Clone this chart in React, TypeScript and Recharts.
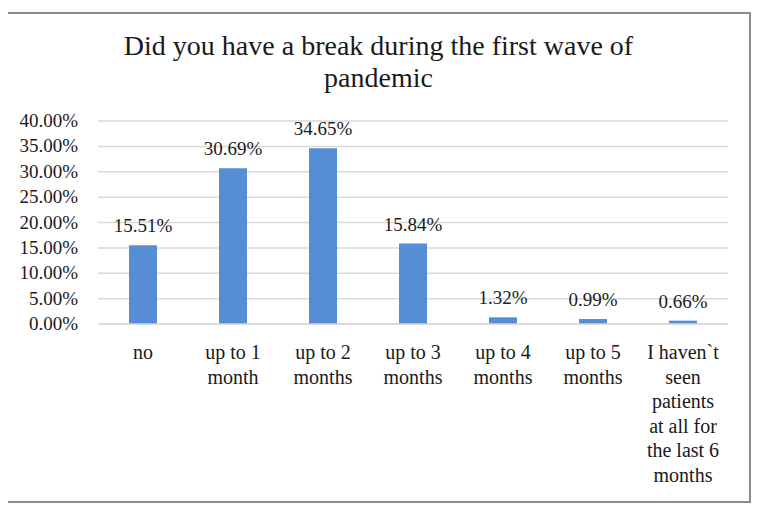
import { BarChart, Bar, XAxis, YAxis, CartesianGrid, LabelList } from 'recharts';

const categories = [
  'no',
  'up to 1 month',
  'up to 2 months',
  'up to 3 months',
  'up to 4 months',
  'up to 5 months',
  'I haven`t seen patients at all for the last 6 months',
];
const categoryLines = [
  ['no'],
  ['up to 1', 'month'],
  ['up to 2', 'months'],
  ['up to 3', 'months'],
  ['up to 4', 'months'],
  ['up to 5', 'months'],
  ['I haven`t', 'seen', 'patients', 'at all for', 'the last 6', 'months'],
];
const shares = [15.51, 30.69, 34.65, 15.84, 1.32, 0.99, 0.66];
const yTicks = [0, 5, 10, 15, 20, 25, 30, 35, 40];

const FONT = 'Liberation Serif, serif';
const TEXT = '#1a1a1a';

const data = categories.map((c, i) => ({ name: c, idx: i, value: shares[i] }));

const XTick = (props: any) => {
  const { x, y, payload } = props;
  const lines = categoryLines[payload.index] || [payload.value];
  return (
    <g>
      {lines.map((l: string, i: number) => (
        <text
          key={i}
          x={x}
          y={y + 27 + i * 24.5}
          textAnchor="middle"
          style={{ fontFamily: FONT, fontSize: 20, fill: TEXT }}
        >
          {l}
        </text>
      ))}
    </g>
  );
};

const YTick = (props: any) => {
  const { x, y, payload } = props;
  return (
    <text
      x={x - 12}
      y={y + 6}
      textAnchor="end"
      style={{ fontFamily: FONT, fontSize: 19, fill: TEXT }}
    >
      {payload.value.toFixed(2)}%
    </text>
  );
};

export default function App() {
  return (
    <div
      style={{
        position: 'relative',
        width: 741,
        height: 487,
        marginTop: 4,
        marginLeft: -2,
        border: '2px solid #8c8c8c',
        background: '#fff',
        fontFamily: FONT,
      }}
    >
      <div
        style={{
          position: 'absolute',
          left: 0,
          top: 16,
          width: 741,
          textAlign: 'center',
          fontFamily: FONT,
          fontSize: 28,
          lineHeight: '32px',
          color: TEXT,
        }}
      >
        Did you have a break during the first wave of
        <br />
        pandemic
      </div>
      <BarChart
        width={741}
        height={487}
        data={data}
        margin={{ top: 107, right: 21, left: 0, bottom: 0 }}
        style={{ fontFamily: FONT }}
      >
        <CartesianGrid vertical={false} stroke="#d9d9d9" strokeWidth={1.5} />
        <XAxis
          dataKey="name"
          height={177}
          axisLine={{ stroke: '#d9d9d9', strokeWidth: 1.5 }}
          tickLine={false}
          interval={0}
          tick={<XTick />}
        />
        <YAxis
          width={90}
          domain={[0, 40]}
          ticks={yTicks}
          axisLine={false}
          tickLine={false}
          tick={<YTick />}
        />
        <Bar dataKey="value" fill="#558ed5" barSize={28} isAnimationActive={false}>
          <LabelList
            dataKey="value"
            position="top"
            offset={13}
            formatter={(v: any) => `${Number(v).toFixed(2)}%`}
            style={{ fontFamily: FONT, fontSize: 19, fill: TEXT }}
          />
        </Bar>
      </BarChart>
    </div>
  );
}
